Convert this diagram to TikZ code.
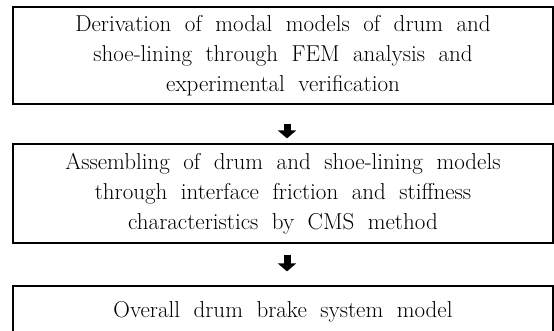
\documentclass[tikz,border=0pt]{standalone}
\usetikzlibrary{arrows.meta,calc}
\newskip\stagewordskip
\stagewordskip=13.5pt plus 2pt minus 1pt
\newcommand\stagefont{\fontsize{23}{30}\selectfont\spaceskip\stagewordskip}
\begin{document}
\begin{tikzpicture}[x=1pt,y=-1pt,
  stagebox/.style={draw=black,line width=1.2pt,minimum width=540pt,inner sep=0pt,
    align=center,font=\stagefont},
  flowarrow/.style={line width=7pt,-{Triangle[width=18pt,length=8pt]}}]
\useasboundingbox (0,0) rectangle (554,330);
\node[stagebox,minimum height=97pt] (b1) at (283,55.5)
  {Derivation of modal models of drum and\\shoe-lining through FEM analysis and\\experimental verification};
\node[stagebox,minimum height=99pt] (b2) at (283,193.5)
  {Assembling of drum and shoe-lining models\\through interface friction and stiffness\\characteristics by CMS method};
\node[stagebox,minimum height=52pt] (b3) at (283,312)
  {Overall drum brake system model};
\draw[flowarrow,shorten <=19pt,shorten >=5pt] ($(b1.south)+(4,0)$) -- ($(b2.north)+(4,0)$);
\draw[flowarrow,shorten <=11pt,shorten >=14pt] ($(b2.south)+(4,0)$) -- ($(b3.north)+(4,0)$);
\end{tikzpicture}
\end{document}
